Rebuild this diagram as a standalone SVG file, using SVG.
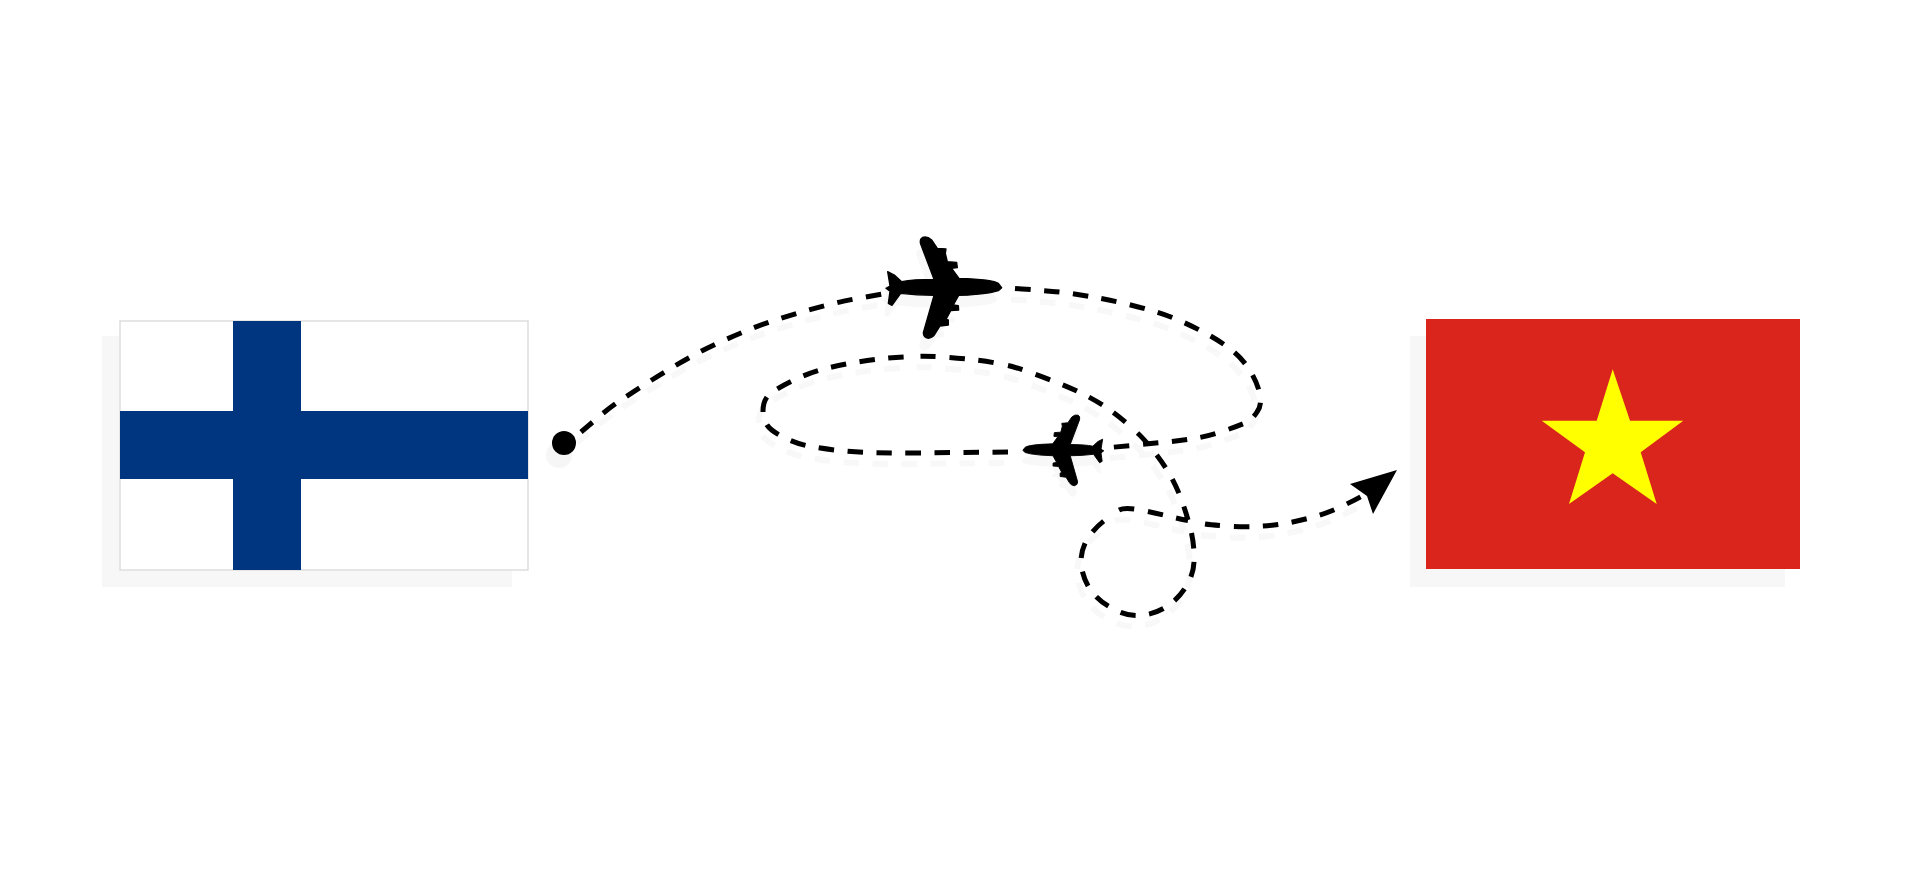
<svg xmlns="http://www.w3.org/2000/svg" xmlns:xlink="http://www.w3.org/1999/xlink" width="1920" height="886" viewBox="0 0 1920 886">
<style>
.leg{fill:none;stroke:#000;stroke-width:5;stroke-dasharray:15.500 13.500}
.legs{fill:none;stroke:#f8f8f8;stroke-width:6;stroke-dasharray:15.500 13.500}
.sh{fill:#f7f7f7}
.psh{fill:#f8f8f8}
.pl{fill:#000;stroke:#000;stroke-width:4;stroke-linejoin:round}
</style>
<defs>
<path id="l1" d="M581 432Q587 427 598 417.5Q609 408 621 400Q633 392 645.500 384Q658 376 670.500 368.500Q683 361 696 354Q709 347 722.500 341Q736 335 749.500 329.500Q763 324 777 319.500Q791 315 805 311Q819 307 833.500 303.500Q848 300 862.500 297.500Q877 295 888 293"/>
<path id="l2" d="M1015 288.500L1022 289Q1052 291 1067 293Q1082 295 1096 297.500Q1110 300 1124.500 303.500Q1139 307 1153 311Q1167 315 1180.500 321Q1194 327 1207 334Q1220 341 1231.500 350Q1243 359 1250.500 371.500Q1258 384 1260 395Q1262 405 1257 412Q1252 420 1245 423Q1233 428 1219 432.500Q1205 437 1191 439Q1177 441 1162 442.500Q1147 444 1131 445.500Q1115 447 1110 447.500"/>
<path id="l3" d="M1008 452L913 453Q883 453 868.500 452.500Q854 452 839.500 450.500Q825 449 811 446.500Q797 444 784 437.500Q771 431 767 425Q763 419 763 411Q763 397 774 391Q785 384 798.500 378Q812 372 826 368.500Q840 365 854.500 362.500Q869 360 883.500 358.500Q898 357 913 356.500M920.500 356.200Q928 356 942.500 357Q957 358 971.500 359.500Q986 361 1000.500 364M1008 365.500Q1015 367 1029 372Q1043 377 1057 382.500Q1071 388 1084 394.500Q1097 401 1108.500 409Q1120 417 1131.500 427.500M1137.500 433Q1143 438 1152 449Q1161 460 1168 471.500Q1175 483 1180 496Q1185 509 1188 520M1191.500 533Q1194 545 1194 555Q1195 572 1187 585Q1179 599 1166 607Q1153 615 1139 615.500Q1125 616 1112 608Q1098 601 1090 589Q1082 577 1081 562Q1081 547 1090 535Q1100 522 1113 515M1119 510Q1125 507 1140.500 510Q1155 513 1167.500 516Q1180 519 1188 520.500M1205 524Q1212 525 1226.500 526Q1241 527 1255.500 526.500Q1270 526 1284.500 523.500Q1299 521 1313.500 517Q1328 513 1341.500 506.500Q1355 500 1362 496"/>
<path id="plane" d="M425 203L415 190Q400 178 297 175L275 145L292 143L290 127L262 125L256 100L258 87L232 85L215 60Q202 48 188 52Q178 58 182 72L222 178Q160 178 125 185L103 165L83 155L90 198L78 205L90 214L85 250L96 256L122 220Q170 226 222 226L190 338Q190 352 205 355Q220 352 225 342L240 318L265 315L265 300L258 298L272 272L296 270L295 257L280 255L296 226Q350 225 392 218L415 212Z"/>
</defs>
<rect width="1920" height="886" fill="#fff"/>
<g id="flag-finland">
<rect class="sh" x="102" y="336" width="410" height="251"/>
<rect x="120" y="321" width="408" height="249" fill="#fff" stroke="#dedede" stroke-width="1.500"/>
<rect x="233" y="321" width="68" height="249" fill="#003580"/>
<rect x="120" y="411" width="408" height="68" fill="#003580"/>
</g>
<g id="flag-vietnam">
<rect class="sh" x="1410" y="336" width="375" height="251"/>
<rect x="1426" y="319" width="374" height="250" fill="#da251d"/>
<polygon points="1612.700,369.300 1630,420.700 1683.300,420.700 1640.700,452.300 1656.700,504 1612.700,473.300 1569,504 1585,452.300 1541.700,420.700 1596.700,420.700" fill="#ff0"/>
</g>
<g id="connectors">
<use xlink:href="#l1" href="#l1" class="legs" transform="translate(-4 11)"/>
<use xlink:href="#l2" href="#l2" class="legs" transform="translate(-4 11)"/>
<use xlink:href="#l3" href="#l3" class="legs" transform="translate(-4 11)"/>
<use xlink:href="#l1" href="#l1" class="leg"/>
<use xlink:href="#l2" href="#l2" class="leg"/>
<use xlink:href="#l3" href="#l3" class="leg"/>
</g>
<g id="origin">
<circle cx="559" cy="455" r="13" fill="#f6f6f6"/>
<circle cx="564" cy="443" r="12" fill="#000"/>
</g>
<g id="plane-1">
<use xlink:href="#plane" href="#plane" class="psh" transform="translate(856 232) scale(.3333)"/>
<use xlink:href="#plane" href="#plane" class="pl" transform="translate(860 220) scale(.3333)"/>
</g>
<g id="plane-2">
<use xlink:href="#plane" href="#plane" class="psh" transform="translate(1121 414) scale(-.2333 .2333)"/>
<use xlink:href="#plane" href="#plane" class="pl" transform="translate(1122 403) scale(-.2333 .2333)"/>
</g>
<g id="arrowhead">
<polygon points="1397,470 1350,484 1367,496 1373,514" fill="#000"/>
</g>
</svg>
